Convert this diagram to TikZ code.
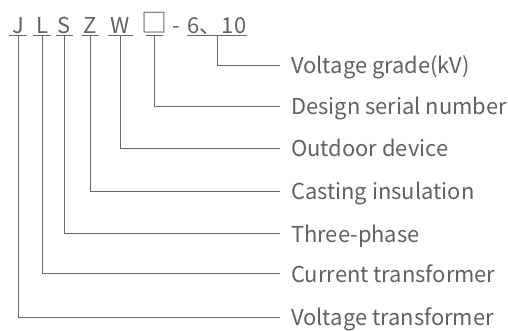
\documentclass[tikz,border=0pt]{standalone}
\usepackage{fontspec}
\setmainfont{Noto Sans CJK SC}
\begin{document}
\begin{tikzpicture}[x=1bp,y=-1bp,
  txt/.style={text=black!62, font=\fontsize{22}{25}\selectfont, inner sep=0pt},
  code/.style={txt, anchor=base},
  lbl/.style={txt, anchor=base west},
  ln/.style={draw=black!60, line width=0.9bp}]
\useasboundingbox (0,0) rectangle (508,330);
% code letters
\node[code] (J) at (18,33) {J};
\node[code] (L) at (42,33) {L};
\node[code] (S) at (64.5,33) {S};
\node[code] (Z) at (90.5,33) {Z};
\node[code] (W) at (120.5,33) {W};
\node[code, font=\fontsize{26}{30}\selectfont] (B) at (154.5,32) {□};
\node[code] (D) at (176,33) {-};
\node[code] (V) at (217,33) {6、10};
\coordinate (ul) at (0,35);
% underlines
\draw[ln] (9,35) -- (27,35) (33,35) -- (51,35) (56,35) -- (73,35) (82,35) -- (99,35)
  (108,35) -- (133,35) (146,35) -- (163,35) (187,35) -- (247,35);
% labels
\node[lbl] (t1) at (291,73.5) {Voltage grade(kV)};
\node[lbl] (t2) at (291,114.5) {Design serial number};
\node[lbl] (t3) at (291,156.5) {Outdoor device};
\node[lbl] (t4) at (291,199.5) {Casting insulation};
\node[lbl] (t5) at (291,242) {Three-phase};
\node[lbl] (t6) at (291,282) {Current transformer};
\node[lbl] (t7) at (291,325.5) {Voltage transformer};
% connectors
\draw[ln] (V |- ul) |- ([xshift=-11bp]t1.west |- 0,65);
\draw[ln] (B |- ul) |- ([xshift=-11bp]t2.west |- 0,106);
\draw[ln] (W |- ul) |- ([xshift=-11bp]t3.west |- 0,148);
\draw[ln] (Z |- ul) |- ([xshift=-11bp]t4.west |- 0,191);
\draw[ln] (S |- ul) |- ([xshift=-11bp]t5.west |- 0,233.5);
\draw[ln] (L |- ul) |- ([xshift=-11bp]t6.west |- 0,273.5);
\draw[ln] (J |- ul) |- ([xshift=-11bp]t7.west |- 0,317);
\end{tikzpicture}
\end{document}
